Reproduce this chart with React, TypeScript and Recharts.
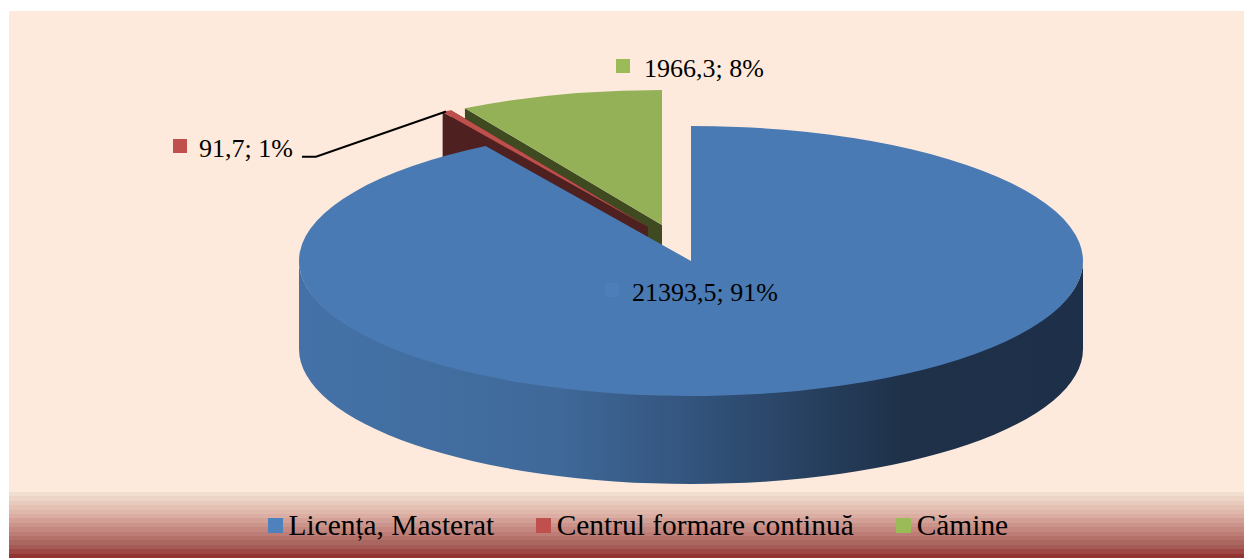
import React from 'react';
import { PieChart, Pie, Legend } from 'recharts';

const categories = ['Licența, Masterat', 'Centrul formare continuă', 'Cămine'];
const values = [21393.5, 91.7, 1966.3];
const valueLabels = ['21393,5', '91,7', '1966,3'];
const percentLabels = ['91%', '1%', '8%'];

const topColors = ['#4a7ab3', '#bd4f4c', '#94b158'];
const keyColors = ['#4f81bd', '#c0504d', '#9bbb59'];
const labelKeyColors = ['#4e7eb9', '#c0504d', '#9bbb59'];
const sideColors = ['url(#blueWall)', '#4f2020', '#3f4a20'];
const explodeX = [0, -43, -29];
const explodeY = [0, -34, -36];
const labelX = [632, 199, 644];
const labelY = [301, 157, 77];
const keyX = [605, 173, 616];
const keyY = [283, 139, 59];
const legendGaps = [0, 42, 42.5];

const bandColors = [
  '#f0dfcf', '#ecd5c6', '#e9cbbd', '#e5c1b4', '#e0b7ab', '#dcada2', '#d2a096', '#cb948b',
  '#c48880', '#bd7c75', '#b3716a', '#aa6660', '#a45a55', '#9e4745', '#923431',
];

const W = 1244;
const H = 558;
const CX = 691;
const CY = 261;
const RX = 392;
const RY = 135;
const DEPTH = 88;
const OVERLAP = 2;

const table = categories.map((name, i) => ({ name, value: values[i], fill: topColors[i], index: i })).reverse();

const indexOf = (name: string) => categories.indexOf(name);

function SectorShape(props: any) {
  const i = indexOf(props.name ?? props.payload?.name);
  const cx = props.cx + explodeX[i];
  const cy = props.cy + explodeY[i];
  const rx = props.outerRadius;
  const ry = (rx * RY) / RX;
  const a0 = Math.min(props.startAngle, props.endAngle);
  const a1 = Math.max(props.startAngle, props.endAngle);
  const px = (a: number) => cx + rx * Math.cos((a * Math.PI) / 180);
  const py = (a: number) => cy - ry * Math.sin((a * Math.PI) / 180);
  const large = a1 - a0 > 180 ? 1 : 0;
  const top = `M${cx},${cy} L${px(a0)},${py(a0)} A${rx},${ry} 0 ${large} 0 ${px(a1)},${py(a1)} Z`;
  const edge = (a: number) =>
    `M${cx},${cy} L${px(a)},${py(a)} L${px(a)},${py(a) + DEPTH} L${cx},${cy + DEPTH} Z`;
  const lo = Math.max(a0, 180);
  const hi = Math.min(a1, 360);
  const side = sideColors[i];
  return (
    <g>
      <defs>
        <linearGradient id="blueWall" gradientUnits="userSpaceOnUse" x1={CX - RX} x2={CX + RX} y1={0} y2={0}>
          <stop offset="0" stopColor="#4472a8" />
          <stop offset="0.33" stopColor="#3f6999" />
          <stop offset="0.5" stopColor="#33547d" />
          <stop offset="0.77" stopColor="#1e3149" />
          <stop offset="1" stopColor="#1e3049" />
        </linearGradient>
      </defs>
      {i !== 0 && <path d={edge(a0)} fill={side} />}
      {i !== 0 && <path d={edge(a1)} fill={side} />}
      {lo < hi && (
        <path
          d={`M${px(lo)},${py(lo)} A${rx},${ry - OVERLAP} 0 0 0 ${px(hi)},${py(hi)} L${px(hi)},${py(hi) + DEPTH} A${rx},${ry} 0 0 1 ${px(lo)},${py(lo) + DEPTH} Z`}
          fill={side}
        />
      )}
      <path d={top} fill={topColors[i]} />
    </g>
  );
}

function SliceLabel(props: any) {
  const i = indexOf(props.name ?? props.payload?.name);
  return (
    <g>
      <rect x={keyX[i]} y={keyY[i]} width={14} height={14} fill={labelKeyColors[i]} />
      <text
        x={labelX[i]}
        y={labelY[i]}
        fontFamily="'Liberation Serif'"
        fontSize={26}
        fill="#000"
      >{`${valueLabels[i]}; ${percentLabels[i]}`}</text>
      {i === 1 && <polyline points="302,156.8 316,156.8 446,111.5" fill="none" stroke="#000" strokeWidth={2} />}
    </g>
  );
}

function LegendRow() {
  return (
    <div style={{ display: 'flex', alignItems: 'center', fontFamily: "'Liberation Serif'", fontSize: 29.4, color: '#000', whiteSpace: 'nowrap' }}>
      {categories.map((c, i) => (
        <div key={c} style={{ display: 'flex', alignItems: 'center', gap: 5.5, marginLeft: legendGaps[i] }}>
          <span style={{ display: 'inline-block', width: 15, height: 15, background: keyColors[i] }} />
          <span>{c}</span>
        </div>
      ))}
    </div>
  );
}

export default function App() {
  const stops = bandColors
    .map((c, i) => `${c} ${(i * 100) / bandColors.length}% ${((i + 1) * 100) / bandColors.length}%`)
    .join(', ');
  return (
    <div style={{ position: 'fixed', left: 0, top: 0, width: W, height: H, background: '#fff', overflow: 'hidden' }}>
      <div style={{ position: 'absolute', left: 9, top: 11, right: 0, bottom: 0, background: '#fdeadc' }} />
      <div style={{ position: 'absolute', left: 9, top: 492, right: 0, bottom: 0, background: `linear-gradient(to bottom, ${stops})` }} />
      <div style={{ position: 'absolute', left: 0, top: 0 }}>
        <PieChart width={W} height={H} margin={{ top: 0, right: 0, bottom: 0, left: 0 }}>
          <Pie
            data={table}
            dataKey="value"
            nameKey="name"
            cx={CX}
            cy={CY}
            innerRadius={0}
            outerRadius={RX}
            startAngle={90}
            endAngle={450}
            stroke="none"
            isAnimationActive={false}
            shape={SectorShape as any}
            activeShape={SectorShape as any}
            inactiveShape={SectorShape as any}
            label={SliceLabel as any}
            labelLine={false}
          />
          <Legend
            content={LegendRow as any}
            wrapperStyle={{ position: 'absolute', left: 268, top: 509, width: 'auto', bottom: 'auto' }}
          />
        </PieChart>
      </div>
    </div>
  );
}
